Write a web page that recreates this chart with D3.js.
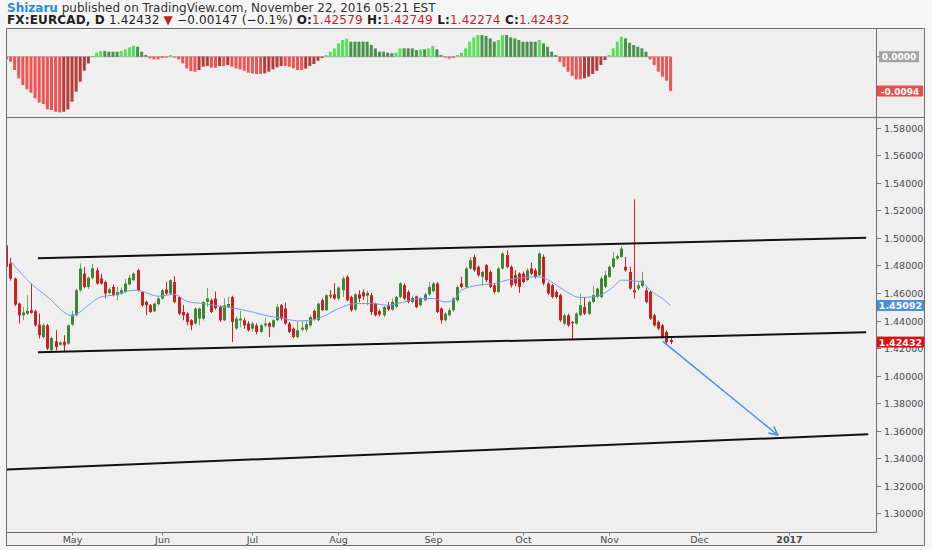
<!DOCTYPE html>
<html><head><meta charset="utf-8">
<script src="https://cdn.jsdelivr.net/npm/d3@7"></script>
<style>
body{margin:0;background:#f6f6f6;}
svg{display:block;font-family:"DejaVu Sans",Verdana,sans-serif;}
</style>
</head><body>
<svg id="c" width="932" height="550"></svg>
<script>
// ---------- DATA ----------
const startDate = "2016-04-08";          // first (partly hidden) daily bar
const open = [
1.4945,1.4814,1.4705,1.4523,1.4438,1.4450,1.4475,1.4467,1.4370,1.4280,1.4365,1.4184,1.4249,1.4225,1.4245,1.4232,
1.4370,1.4438,1.4620,1.4741,1.4644,1.4710,1.4765,1.4705,1.4680,1.4600,
1.4644,1.4584,1.4595,1.4608,1.4662,1.4693,1.4765,1.4607,1.4535,1.4511,
1.4467,1.4518,1.4560,1.4625,1.4596,1.4680,1.4571,1.4462,1.4450,1.4402,
1.4378,1.4414,1.4414,1.4535,1.4547,1.4560,1.4498,1.4402,1.4500,1.4571,
1.4342,1.4400,1.4402,1.4378,1.4341,1.4365,1.4317,1.4365,1.4380,1.4355,
1.4402,1.4511,1.4487,1.4378,1.4341,1.4280,1.4334,1.4334,1.4365,1.4470,
1.4402,1.4547,1.4475,1.4584,1.4590,1.4560,1.4620,1.4717,1.4571,1.4480,
1.4590,1.4605,1.4580,1.4584,1.4523,1.4467,1.4438,1.4511,1.4480,1.4500,
1.4571,1.4656,1.4607,1.4535,1.4575,1.4511,1.4547,1.4590,1.4613,1.4669,
1.4487,1.4402,1.4438,1.4475,1.4547,1.4669,1.4644,1.4778,1.4862,1.4790,
1.4717,1.4802,1.4753,1.4656,1.4608,1.4778,1.4875,1.4790,1.4729,1.4741,
1.4741,1.4693,1.4778,1.4765,1.4729,1.4862,1.4669,1.4656,1.4607,1.4584,
1.4378,1.4438,1.4390,1.4378,1.4438,1.4498,1.4450,1.4535,1.4571,1.4571,
1.4644,1.4717,1.4790,1.4851,1.4862,1.4790,1.4753,1.4620,1.4632,1.4650,
1.4620,1.4607,1.4438,1.4390,1.4365,1.4317,1.42579];
const high = [
1.4960,1.4855,1.4712,1.4530,1.4498,1.4585,1.4669,1.4480,1.4450,1.4380,1.4375,1.4285,1.4329,1.4250,1.4293,1.4370,
1.4470,1.4630,1.4814,1.4790,1.4720,1.4810,1.4785,1.4740,1.4690,1.4640,
1.4660,1.4644,1.4640,1.4700,1.4730,1.4750,1.4775,1.4615,1.4545,1.4520,
1.4530,1.4570,1.4630,1.4680,1.4700,1.4722,1.4580,1.4511,1.4460,1.4410,
1.4495,1.4495,1.4545,1.4635,1.4560,1.4610,1.4510,1.4560,1.4571,1.4580,
1.4430,1.4470,1.4420,1.4395,1.4390,1.4380,1.4375,1.4420,1.4390,1.4410,
1.4520,1.4520,1.4530,1.4390,1.4350,1.4390,1.4400,1.4400,1.4440,1.4480,
1.4530,1.4560,1.4590,1.4620,1.4670,1.4650,1.4720,1.4730,1.4580,1.4600,
1.4620,1.4625,1.4618,1.4600,1.4530,1.4480,1.4505,1.4535,1.4560,1.4580,
1.4680,1.4670,1.4620,1.4580,1.4580,1.4570,1.4600,1.4680,1.4680,1.4680,
1.4495,1.4460,1.4490,1.4570,1.4655,1.4717,1.4790,1.4860,1.4880,1.4800,
1.4760,1.4810,1.4765,1.4670,1.4790,1.4900,1.4910,1.4800,1.4765,1.4750,
1.4755,1.4780,1.4820,1.4780,1.4900,1.4880,1.4680,1.4665,1.4620,1.4595,
1.4450,1.4450,1.4395,1.4460,1.4595,1.4570,1.4545,1.4650,1.4640,1.4720,
1.4760,1.4800,1.4900,1.4880,1.4940,1.4862,1.4790,1.5280,1.4680,1.4753,
1.4640,1.4620,1.4450,1.4400,1.4375,1.4330,1.42749];
const low = [
1.4780,1.4690,1.4505,1.4378,1.4402,1.4440,1.4450,1.4355,1.4270,1.4270,1.4185,1.4175,1.4184,1.4215,1.4172,1.4225,
1.4360,1.4430,1.4610,1.4635,1.4630,1.4700,1.4660,1.4660,1.4560,1.4590,
1.4575,1.4547,1.4585,1.4600,1.4655,1.4685,1.4610,1.4500,1.4438,1.4455,
1.4460,1.4510,1.4550,1.4585,1.4590,1.4525,1.4440,1.4402,1.4365,1.4329,
1.4370,1.4365,1.4400,1.4500,1.4455,1.4480,1.4390,1.4395,1.4490,1.4244,
1.4330,1.4350,1.4340,1.4320,1.4320,1.4300,1.4310,1.4350,1.4280,1.4345,
1.4395,1.4400,1.4370,1.4310,1.4270,1.4270,1.4320,1.4320,1.4350,1.4400,
1.4395,1.4470,1.4470,1.4560,1.4550,1.4547,1.4570,1.4540,1.4465,1.4470,
1.4535,1.4550,1.4510,1.4440,1.4430,1.4430,1.4425,1.4470,1.4470,1.4490,
1.4560,1.4550,1.4525,1.4525,1.4490,1.4500,1.4540,1.4580,1.4605,1.4455,
1.4378,1.4390,1.4430,1.4465,1.4535,1.4635,1.4630,1.4770,1.4755,1.4720,
1.4650,1.4680,1.4635,1.4595,1.4600,1.4770,1.4780,1.4640,1.4650,1.4600,
1.4670,1.4685,1.4730,1.4705,1.4720,1.4655,1.4585,1.4560,1.4560,1.4390,
1.4365,1.4355,1.4256,1.4370,1.4430,1.4440,1.4440,1.4525,1.4560,1.4560,
1.4635,1.4710,1.4780,1.4840,1.4855,1.4755,1.4625,1.4560,1.4620,1.4640,
1.4525,1.4405,1.4355,1.4330,1.4270,1.4220,1.42274];
const close = [
1.4790,1.4705,1.4516,1.4438,1.4458,1.4470,1.4455,1.4365,1.4293,1.4365,1.4196,1.4273,1.4208,1.4240,1.4220,1.4365,
1.4443,1.4620,1.4778,1.4644,1.4710,1.4780,1.4669,1.4669,1.4596,1.4627,
1.4584,1.4607,1.4620,1.4669,1.4710,1.4741,1.4620,1.4511,1.4511,1.4462,
1.4523,1.4560,1.4620,1.4596,1.4693,1.4535,1.4450,1.4438,1.4390,1.4365,
1.4487,1.4487,1.4535,1.4560,1.4462,1.4490,1.4402,1.4510,1.4520,1.4390,
1.4414,1.4414,1.4365,1.4329,1.4378,1.4317,1.4365,1.4378,1.4355,1.4402,
1.4498,1.4414,1.4378,1.4317,1.4280,1.4329,1.4348,1.4373,1.4426,1.4410,
1.4523,1.4475,1.4584,1.4575,1.4560,1.4640,1.4705,1.4547,1.4475,1.4590,
1.4560,1.4575,1.4600,1.4462,1.4438,1.4443,1.4498,1.4480,1.4535,1.4571,
1.4669,1.4560,1.4535,1.4565,1.4498,1.4560,1.4590,1.4644,1.4669,1.4462,
1.4402,1.4450,1.4475,1.4560,1.4644,1.4644,1.4778,1.4838,1.4765,1.4729,
1.4753,1.4693,1.4644,1.4608,1.4778,1.4887,1.4790,1.4656,1.4669,1.4644,
1.4680,1.4765,1.4741,1.4717,1.4887,1.4669,1.4596,1.4571,1.4571,1.4402,
1.4438,1.4365,1.4380,1.4450,1.4511,1.4450,1.4535,1.4584,1.4632,1.4705,
1.4729,1.4790,1.4851,1.4867,1.4923,1.4765,1.4632,1.4605,1.4656,1.4690,
1.4535,1.4414,1.4365,1.4341,1.4280,1.4244,1.42432];
// MACD histogram, one value per bar
const macdHist = [
-0.00073,-0.00137,-0.00365,-0.00594,-0.00776,-0.00895,-0.00986,-0.01142,-0.01260,-0.01297,-0.01443,-0.01461,-0.01507,-0.01525,-0.01507,-0.01443,
-0.01233,-0.00959,-0.00685,-0.00384,-0.00183,0.00018,0.00110,0.00155,0.00155,0.00137,
0.00137,0.00137,0.00155,0.00201,0.00256,0.00301,0.00274,0.00137,0.00046,-0.00046,
-0.00073,-0.00073,-0.00027,-0.00027,0.00046,-0.00010,-0.00073,-0.00183,-0.00320,-0.00393,
-0.00411,-0.00365,-0.00274,-0.00256,-0.00301,-0.00301,-0.00256,-0.00256,-0.00228,-0.00274,
-0.00320,-0.00347,-0.00384,-0.00438,-0.00457,-0.00475,-0.00475,-0.00457,-0.00411,-0.00347,
-0.00292,-0.00256,-0.00256,-0.00274,-0.00320,-0.00365,-0.00365,-0.00329,-0.00256,-0.00201,
-0.00110,-0.00037,0.00046,0.00137,0.00228,0.00365,0.00457,0.00502,0.00411,0.00411,
0.00411,0.00411,0.00411,0.00320,0.00228,0.00137,0.00137,0.00110,0.00091,0.00110,
0.00228,0.00228,0.00228,0.00228,0.00183,0.00201,0.00201,0.00228,0.00292,0.00201,
0.00046,-0.00027,-0.00055,-0.00027,0.00046,0.00110,0.00228,0.00411,0.00530,0.00594,
0.00594,0.00566,0.00502,0.00411,0.00457,0.00594,0.00594,0.00530,0.00502,0.00457,
0.00411,0.00411,0.00411,0.00411,0.00457,0.00365,0.00274,0.00137,0.00046,-0.00137,
-0.00274,-0.00411,-0.00530,-0.00621,-0.00621,-0.00594,-0.00548,-0.00475,-0.00384,-0.00228,
-0.00091,0.00046,0.00228,0.00411,0.00548,0.00502,0.00383,0.00320,0.00274,0.00228,
0.00137,-0.00073,-0.00228,-0.00411,-0.00548,-0.00658,-0.00941];
// moving average, read at these bar numbers (0 = 2 May 2016)
const maBar = [-15,-10,-5,-2,0,1,4,7,10,15,17,21,23,25,28,32,36,40,44,48,52,55,58,61,65,69,73,77,81,85,88,91,93,95,99,103,106,110,114,117,120,124,128,132,134,137,139,141,144,146];
const maValue = [1.4830,1.4669,1.4547,1.4462,1.4436,1.4445,1.4511,1.4571,1.4584,1.4620,1.4613,1.4576,1.4584,1.4589,1.4540,1.4523,1.4504,1.4487,1.4462,1.4431,1.4414,1.4397,1.4402,1.4426,1.4487,1.4523,1.4523,1.4511,1.4535,1.4560,1.4560,1.4535,1.4547,1.4620,1.4656,1.4669,1.4693,1.4712,1.4717,1.4680,1.4620,1.4567,1.4576,1.4644,1.4693,1.4688,1.4680,1.4620,1.4560,1.45092];
const priceTicks = [1.30,1.32,1.34,1.36,1.38,1.40,1.42,1.44,1.46,1.48,1.50,1.52,1.54,1.56,1.58];
const monthTickDates = ["2016-05-02","2016-06-01","2016-07-01","2016-08-01","2016-09-01","2016-10-03","2016-11-01","2016-12-01","2017-01-02"];
const monthTickLabels = ["May","Jun","Jul","Aug","Sep","Oct","Nov","Dec","2017"];
// drawn trend lines (bar number from 2 May 2016, price)
const lineBar1 = [-8.3,-8.3,-15.85];
const linePrice1 = [1.4853,1.4169,1.3318];
const lineBar2 = [193.7,193.7,194.2];
const linePrice2 = [1.5002,1.4315,1.3573];
const arrowBar = [144.1,172.2];
const arrowPrice = [1.4249,1.3566];
const lastMA = 1.45092, lastClose = 1.42432, macdLast = -0.0094;

// ---------- LAYOUT ----------
const svg = d3.select("#c");
const L = 7, R = 876, RR = 924, TOP = 29, MID = 117.5, BOT = 532.5, FOOT = 545.5;
const BAR0 = 16; // index of 2 May in weekday list

const days = [];
{ let t = Date.parse(startDate + "T00:00:00Z");
  while (days.length < 260) { const dd = new Date(t), w = dd.getUTCDay();
    if (w !== 0 && w !== 6) days.push(dd.toISOString().slice(0,10)); t += 86400000; } }
const x = d3.scaleLinear().domain([-15.85, 196.1]).range([L, R]); // bar number -> px
const bx = k => x(k - BAR0); // array index -> px
const y = d3.scaleLinear().domain([1.2860, 1.5864]).range([BOT, 119]);
const ym = d3.scaleLinear().domain([-0.0094, 0]).range([91, 56.7]);

svg.append("rect").attr("width",932).attr("height",550).attr("fill","#f6f6f6");
svg.append("rect").attr("x",L).attr("y",TOP).attr("width",RR-L).attr("height",FOOT-TOP).attr("fill","#efefef");

const defs = svg.append("defs");
defs.append("clipPath").attr("id","cp").append("rect").attr("x",L).attr("y",MID+1).attr("width",R-L).attr("height",BOT-MID-1);
defs.append("clipPath").attr("id","cm").append("rect").attr("x",L).attr("y",TOP+1).attr("width",R-L).attr("height",MID-TOP-1);

// ---------- MACD panel ----------
const gm = svg.append("g").attr("clip-path","url(#cm)");
gm.append("line").attr("x1",bx(0)).attr("x2",bx(macdHist.length-1)).attr("y1",ym(0)).attr("y2",ym(0))
  .attr("stroke","#9a9a9a").attr("stroke-width",0.8);
macdHist.forEach((v,i)=>{
  const prev = i>0 ? macdHist[i-1] : v;
  let col;
  if (v >= 0) col = (prev < v) ? "#58e058" : "#4d8f4d";
  else col = (prev < v) ? "#b53a3a" : "#f25353";
  const y0 = ym(0), y1 = ym(v);
  gm.append("rect").attr("x",bx(i)-1.5).attr("width",3)
    .attr("y",Math.min(y0,y1)).attr("height",Math.max(0.8,Math.abs(y1-y0))).attr("fill",col);
});

// ---------- price panel ----------
const gp = svg.append("g").attr("clip-path","url(#cp)");
const up = "#3f8535", dn = "#cc1f1f";
open.forEach((o,i)=>{
  const c = close[i], isUp = c >= o, xc = Math.round(bx(i)) + 0.5;
  gp.append("line").attr("x1",xc).attr("x2",xc).attr("y1",y(high[i])).attr("y2",y(low[i]))
    .attr("stroke", isUp ? "#6aac52" : dn).attr("stroke-width",1);
  const t = y(Math.max(o,c)), b = y(Math.min(o,c));
  gp.append("rect").attr("x",xc-1.5).attr("width",3).attr("y",t).attr("height",Math.max(1,b-t))
    .attr("fill", isUp ? up : dn);
});
// moving average
gp.append("path").datum(maBar.map((b,i)=>[x(b), y(maValue[i])]))
  .attr("d", d3.line().curve(d3.curveMonotoneX))
  .attr("fill","none").attr("stroke","#6e9fe6").attr("stroke-width",1);
// trend lines
lineBar1.forEach((b,i)=>{
  gp.append("line").attr("x1",x(b)).attr("y1",y(linePrice1[i])).attr("x2",x(lineBar2[i])).attr("y2",y(linePrice2[i]))
    .attr("stroke","#111").attr("stroke-width",2);
});
// arrow
{ const x1=x(arrowBar[0]), y1=y(arrowPrice[0]), x2=x(arrowBar[1]), y2=y(arrowPrice[1]);
  gp.append("line").attr("x1",x1).attr("y1",y1).attr("x2",x2).attr("y2",y2).attr("stroke","#4a8fe0").attr("stroke-width",1.5);
  const a = Math.atan2(y2-y1,x2-x1), hl = 10;
  [0.45,-0.45].forEach(d=>{
    gp.append("line").attr("x1",x2).attr("y1",y2).attr("x2",x2-hl*Math.cos(a+d)).attr("y2",y2-hl*Math.sin(a+d))
      .attr("stroke","#4a8fe0").attr("stroke-width",1.5);
  });
}

// ---------- frame ----------
const fr = "#6e6e6e";
const fl = (x1,y1,x2,y2)=>svg.append("line").attr("x1",x1).attr("y1",y1).attr("x2",x2).attr("y2",y2).attr("stroke",fr).attr("stroke-width",1);
fl(L-0.5,TOP-0.5,RR+0.5,TOP-0.5);
fl(L-0.5,TOP-0.5,L-0.5,FOOT);
fl(RR+0.5,TOP-0.5,RR+0.5,FOOT);
fl(L-0.5,FOOT,RR+0.5,FOOT);
fl(L-0.5,MID,RR+0.5,MID);
fl(R+0.5,TOP,R+0.5,BOT);
fl(L-0.5,BOT,R+0.5,BOT);

// price axis
priceTicks.forEach(p=>{
  const yy = Math.round(y(p))+0.5;
  svg.append("line").attr("x1",R+1).attr("x2",R+5).attr("y1",yy).attr("y2",yy).attr("stroke","#777");
  svg.append("text").attr("x",884).attr("y",yy+3.5).attr("font-size",9.5).attr("fill","#4a4a4a").text(p.toFixed(5));
});
// x axis
monthTickDates.forEach((d,i)=>{
  const xx = Math.round(bx(days.indexOf(d)))+0.5;
  svg.append("line").attr("x1",xx).attr("x2",xx).attr("y1",BOT).attr("y2",BOT+3).attr("stroke","#777");
  svg.append("text").attr("x",xx).attr("y",543).attr("text-anchor","middle").attr("font-size",9.5)
    .attr("font-weight", monthTickLabels[i]==="2017" ? "bold" : "normal").attr("fill","#4a4a4a").text(monthTickLabels[i]);
});
// badges
function badge(yc, txt, fill, x0, w, fs){
  svg.append("line").attr("x1",R+1).attr("x2",R+5).attr("y1",yc).attr("y2",yc).attr("stroke","#777");
  svg.append("rect").attr("x",x0).attr("y",yc-5.5).attr("width",w).attr("height",11).attr("fill",fill);
  svg.append("text").attr("x",x0+w/2).attr("y",yc+3.5).attr("text-anchor","middle").attr("font-size",fs)
    .attr("font-weight","bold").attr("fill","#fff").text(txt);
}
badge(ym(0), "0.0000", "#a3a3a3", 879, 40, 9);
badge(ym(macdLast), macdLast.toFixed(4), "#f04b4b", 877, 46, 9);
badge(y(lastMA), lastMA.toFixed(5), "#4a8fe0", 877, 47, 9.5);
badge(y(lastClose), lastClose.toFixed(5), "#e01010", 877, 47, 9.5);

// ---------- header ----------
const h1 = svg.append("text").attr("x",7).attr("y",11.5).attr("font-size",12).attr("fill","#333");
h1.append("tspan").attr("fill","#2a8ae0").attr("font-weight","bold").text("Shizaru");
h1.append("tspan").text(" published on TradingView.com, November 22, 2016 05:21 EST");
const h2 = svg.append("text").attr("x",7).attr("y",24).attr("font-size",12).attr("letter-spacing",0.15).attr("fill","#222");
const red = "#c81e1e";
[["FX:EURCAD, D","#222","bold"],[" 1.42432 ","#222","normal"],["▼",red,"normal"],[" −0.00147 (−0.1%) ","#222","normal"],
 ["O:","#222","bold"],["1.42579",red,"normal"],[" H:","#222","bold"],["1.42749",red,"normal"],
 [" L:","#222","bold"],["1.42274",red,"normal"],[" C:","#222","bold"],["1.42432",red,"normal"]]
.forEach(([t,c,w])=>h2.append("tspan").attr("fill",c).attr("font-weight",w).text(t));
</script>
</body></html>
